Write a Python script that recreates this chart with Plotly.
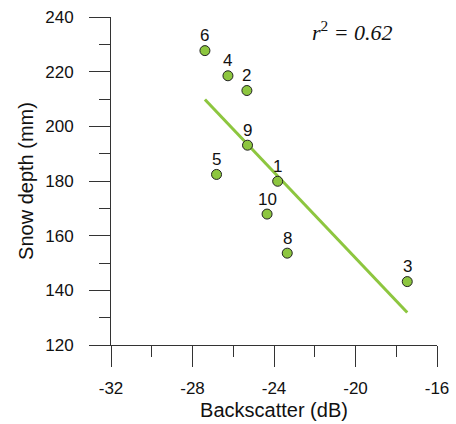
import plotly.graph_objects as go

# Data
site_ids = ["1", "2", "3", "4", "5", "6", "8", "9", "10"]
backscatter_db = [-23.82, -25.33, -17.46, -26.26, -26.82, -27.39, -23.35, -25.30, -24.34]
snow_depth_mm = [179.9, 213.1, 143.2, 218.5, 182.4, 227.7, 153.6, 193.1, 167.9]

# Regression line end points
fit_x = [-27.39, -17.46]
fit_y = [209.8, 131.9]

x_ticks = [-32, -28, -24, -20, -16]
y_ticks = [120, 140, 160, 180, 200, 220, 240]

green = "#8dc63f"
axis_col = "#333333"
font_sans = "Liberation Sans, Arial, sans-serif"

fig = go.Figure()
fig.add_trace(go.Scatter(
    x=fit_x, y=fit_y, mode="lines",
    line=dict(color=green, width=3),
    hoverinfo="skip", showlegend=False,
))
fig.add_trace(go.Scatter(
    x=backscatter_db, y=snow_depth_mm, mode="markers",
    text=site_ids,
    marker=dict(size=10, color=green, line=dict(color="#222222", width=1)),
    showlegend=False,
))

for sid, xv, yv in zip(site_ids, backscatter_db, snow_depth_mm):
    fig.add_annotation(
        x=xv, y=yv, xref="x", yref="y", text=sid, showarrow=False,
        xanchor="center", yanchor="middle", yshift=15,
        font=dict(family=font_sans, size=17, color="#111111"),
    )

fig.add_annotation(
    xref="paper", yref="paper", x=0.741, y=0.958,
    text="<i>r</i><sup>2</sup><i> = 0.62</i>",
    showarrow=False, xanchor="center", yanchor="middle",
    font=dict(family="Liberation Serif, Times New Roman, serif", size=22, color="#111111"),
)

fig.update_xaxes(
    range=[-32, -16], tickvals=x_ticks, ticktext=[str(v) for v in x_ticks],
    showline=True, linecolor=axis_col, linewidth=1,
    ticks="outside", ticklen=21, tickcolor=axis_col, tickwidth=1,
    minor=dict(dtick=2, tick0=-32, ticks="outside", ticklen=11, tickcolor=axis_col, tickwidth=1),
    showgrid=False, zeroline=False, automargin=False,
    tickfont=dict(family=font_sans, size=17, color="#111111"),
    ticklabelstandoff=7,
    title=dict(text="Backscatter (dB)", font=dict(family=font_sans, size=20, color="#111111"), standoff=5),
)
fig.update_yaxes(
    range=[120, 240], tickvals=y_ticks, ticktext=[str(v) for v in y_ticks],
    showline=True, linecolor=axis_col, linewidth=1,
    ticks="outside", ticklen=21, tickcolor=axis_col, tickwidth=1,
    minor=dict(dtick=10, tick0=120, ticks="outside", ticklen=11, tickcolor=axis_col, tickwidth=1),
    showgrid=False, zeroline=False, automargin=False,
    tickfont=dict(family=font_sans, size=17, color="#111111"),
    ticklabelstandoff=12,
    title=dict(text="Snow depth (mm)", font=dict(family=font_sans, size=20, color="#111111"), standoff=6),
)

fig.update_layout(
    width=456, height=424,
    margin=dict(l=111, r=19, t=17, b=79, pad=0),
    plot_bgcolor="white", paper_bgcolor="white",
)

fig.write_html("out.html")
